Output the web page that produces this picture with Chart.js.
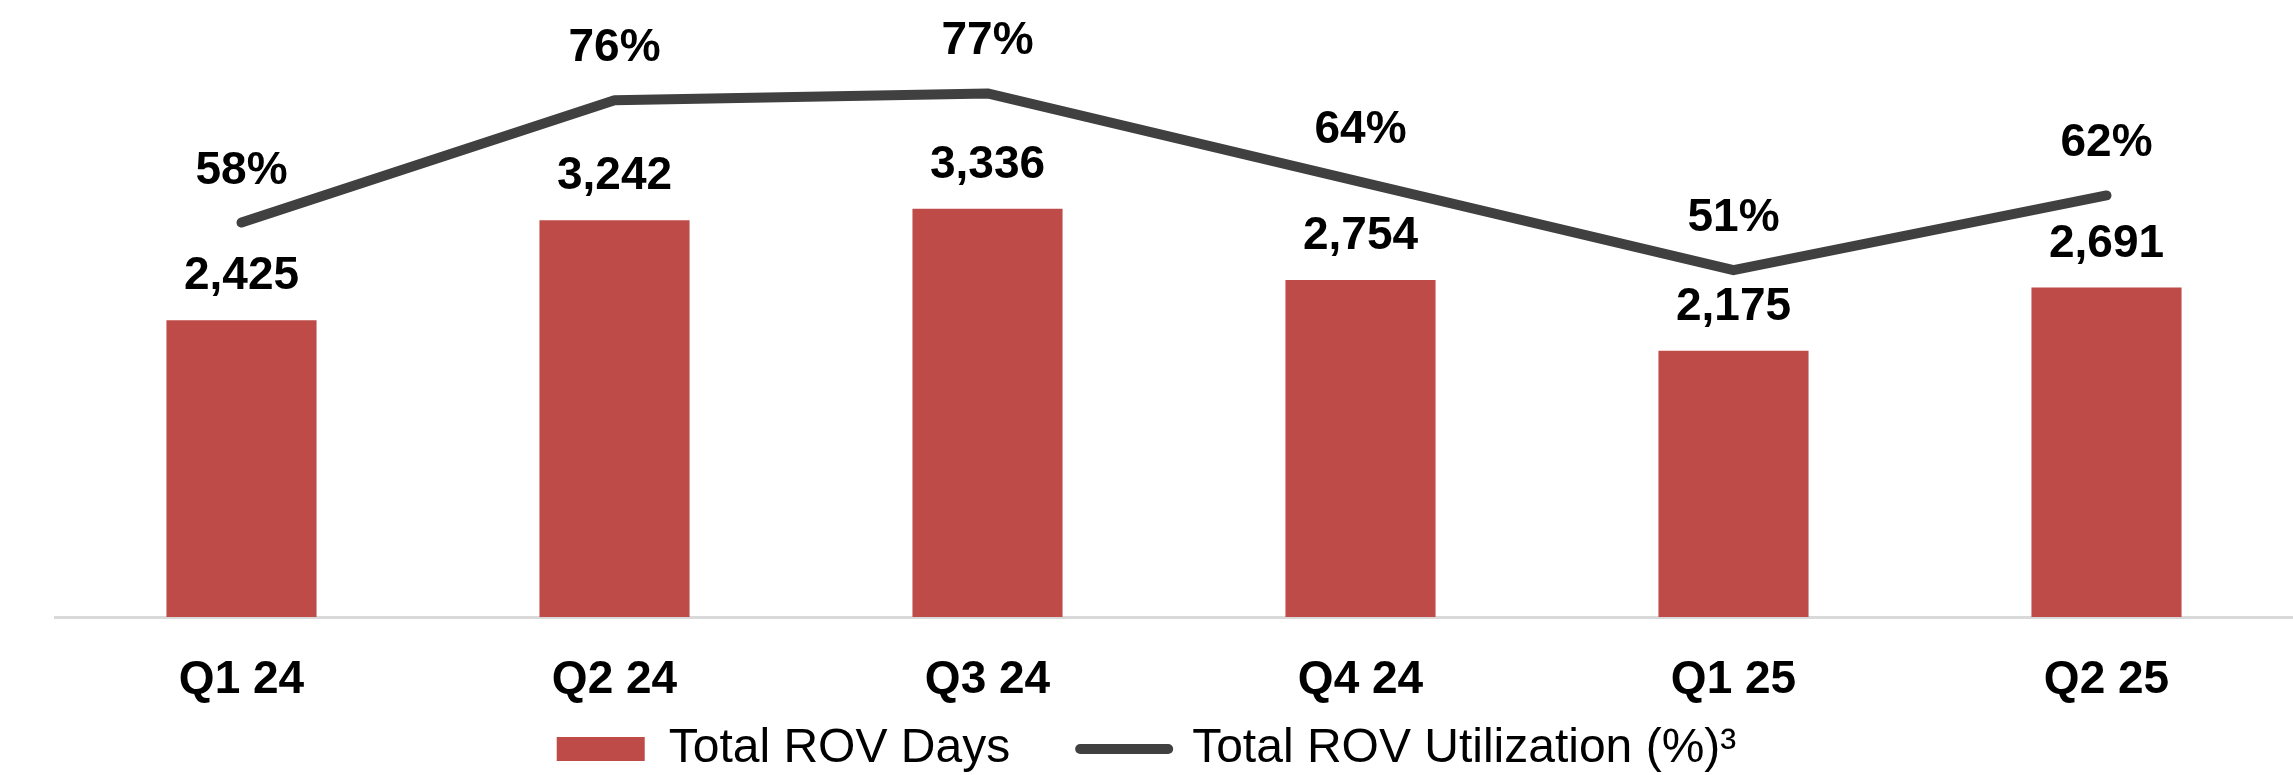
<!DOCTYPE html>
<html>
<head>
<meta charset="utf-8">
<script src="https://cdn.jsdelivr.net/npm/chart.js@4.4.1/dist/chart.umd.min.js"></script>
<style>
  html, body { margin: 0; padding: 0; background: #ffffff; }
  #wrap { width: 2293px; height: 775px; }
</style>
</head>
<body>
<div id="wrap"><canvas id="chart" width="2293" height="775"></canvas></div>
<script>
const categories = ['Q1 24', 'Q2 24', 'Q3 24', 'Q4 24', 'Q1 25', 'Q2 25'];
const rovDays = [2425, 3242, 3336, 2754, 2175, 2691];
const rovUtilization = [58, 76, 77, 64, 51, 62];
const seriesNames = ['Total ROV Days', 'Total ROV Utilization (%)³'];

const FONT = '"Liberation Sans", Arial, Helvetica, sans-serif';
Chart.defaults.font.family = FONT;
Chart.defaults.color = '#000000';

const dataLabelPlugin = {
  id: 'dataLabels',
  afterDatasetsDraw(chart) {
    const ctx = chart.ctx;
    ctx.save();
    ctx.font = 'bold 46px ' + FONT;
    ctx.fillStyle = '#000000';
    ctx.textAlign = 'center';
    ctx.textBaseline = 'alphabetic';
    chart.getDatasetMeta(0).data.forEach((el, i) => {
      ctx.fillText(rovDays[i].toLocaleString('en-US'), el.x, el.y - 31);
    });
    chart.getDatasetMeta(1).data.forEach((el, i) => {
      ctx.fillText(rovUtilization[i] + '%', el.x, el.y - 39);
    });
    ctx.restore();
  }
};

new Chart(document.getElementById('chart'), {
  data: {
    labels: categories,
    datasets: [
      {
        type: 'bar',
        label: seriesNames[0],
        data: rovDays,
        yAxisID: 'y',
        backgroundColor: '#BE4B48',
        borderWidth: 0,
        categoryPercentage: 1.0,
        barPercentage: 0.4024,
        pointStyle: 'rect'
      },
      {
        type: 'line',
        label: seriesNames[1],
        data: rovUtilization,
        yAxisID: 'y2',
        borderColor: '#404040',
        backgroundColor: '#404040',
        borderWidth: 10,
        borderCapStyle: 'round',
        borderJoinStyle: 'round',
        tension: 0,
        pointRadius: 0,
        pointHoverRadius: 0,
        pointStyle: 'line',
        pointBorderWidth: 10,
        pointBorderColor: '#404040',
        fill: false
      }
    ]
  },
  options: {
    responsive: false,
    animation: false,
    devicePixelRatio: 1,
    layout: { padding: { left: 0, right: 0, top: 5, bottom: -8 } },
    scales: {
      x: {
        grid: { display: false, drawTicks: false },
        border: { display: true, color: '#D9D9D9', width: 3 },
        ticks: {
          color: '#000000',
          mirror: true,
          padding: -67,
          font: { size: 46, weight: 'bold', lineHeight: '8px' }
        },
        afterFit(scale) { scale.height = 38; }
      },
      y: {
        display: true,
        position: 'left',
        min: 0,
        max: 5000,
        grid: { display: false, drawTicks: false },
        border: { display: false },
        ticks: { display: false },
        afterFit(scale) { scale.width = 55; }
      },
      y2: { display: false, position: 'right', min: 0, max: 90 }
    },
    plugins: {
      tooltip: { enabled: false },
      legend: {
        display: true,
        position: 'bottom',
        labels: {
          usePointStyle: true,
          pointStyleWidth: 88,
          boxHeight: 24,
          padding: 70,
          color: '#000000',
          font: { size: 48, weight: 'normal' },
          generateLabels(chart) {
            const items = Chart.defaults.plugins.legend.labels.generateLabels(chart);
            items.forEach(it => {
              if (it.datasetIndex === 1) {
                it.lineCap = 'round';
                it.lineWidth = 10;
                it.strokeStyle = '#404040';
              } else {
                it.lineWidth = 0;
                it.fillStyle = '#BE4B48';
              }
            });
            return items;
          }
        }
      }
    }
  },
  plugins: [dataLabelPlugin]
});
</script>
</body>
</html>
